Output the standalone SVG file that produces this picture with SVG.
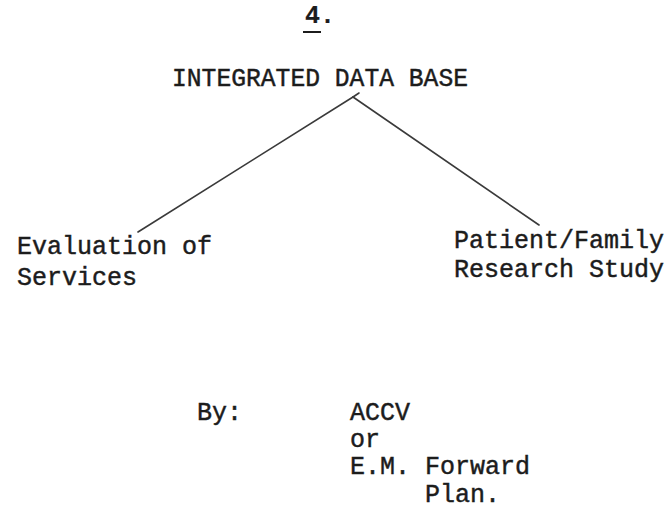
<svg xmlns="http://www.w3.org/2000/svg" width="670" height="511" viewBox="0 0 670 511">
<style>
.t{font-family:"Liberation Mono","DejaVu Sans Mono",monospace;font-size:25px;fill:#1c1c1c;stroke:#1c1c1c;stroke-width:0.45;}
.b{font-weight:bold;stroke-width:0.2;}
.c{stroke:#3a3a3a;stroke-width:1.6;fill:none;stroke-linecap:round;}
</style>
<rect width="670" height="511" fill="#fff"/>
<g id="page-number">
<text class="t b" x="305" y="23">4.</text>
<line x1="303" y1="32" x2="321" y2="32" stroke="#1c1c1c" stroke-width="2"/>
</g>
<g id="integrated-data-base">
<text class="t" x="172" y="86" font-size="26" textLength="296" lengthAdjust="spacingAndGlyphs">INTEGRATED DATA BASE</text>
</g>
<g id="connectors">
<line class="c" x1="353" y1="97" x2="138" y2="232"/>
<line class="c" x1="353" y1="97" x2="539" y2="225"/>
<line class="c" x1="353" y1="97" x2="359" y2="93"/>
</g>
<g id="evaluation-of-services">
<text class="t" x="17" y="254">Evaluation of</text>
<text class="t" x="17" y="285">Services</text>
</g>
<g id="patient-family-research-study">
<text class="t" x="454" y="248">Patient/Family</text>
<text class="t" x="454" y="277">Research Study</text>
</g>
<g id="by">
<text class="t" x="197" y="420">By:</text>
<text class="t" x="350" y="420">ACCV</text>
<text class="t" x="350" y="447">or</text>
<text class="t" x="350" y="474">E.M. Forward</text>
<text class="t" x="425" y="502">Plan.</text>
</g>
</svg>
